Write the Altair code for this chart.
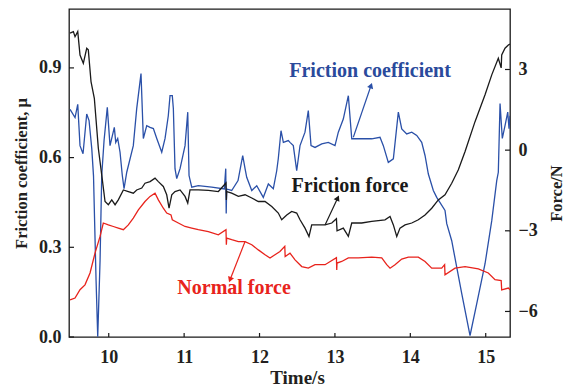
import altair as alt
import pandas as pd

# ---------------- data ----------------
T_BLUE = [9.487, 9.553, 9.589, 9.619, 9.659, 9.708, 9.739, 9.775, 9.798, 9.832,
          9.854, 9.885, 9.907, 9.938, 9.981, 10.017, 10.074, 10.093, 10.119, 10.150,
          10.180, 10.203, 10.239, 10.326, 10.371, 10.428, 10.459, 10.504, 10.548, 10.592,
          10.637, 10.703, 10.747, 10.790, 10.813, 10.843, 10.857, 10.879, 10.902, 10.946,
          11.012, 11.048, 11.065, 11.101, 11.188, 11.366, 11.533, 11.552, 11.558, 11.564,
          11.631, 11.715, 11.777, 11.808, 11.830, 11.897, 11.963, 12.050, 12.117, 12.183,
          12.228, 12.249, 12.285, 12.316, 12.382, 12.404, 12.448, 12.493, 12.537, 12.603,
          12.647, 12.683, 12.736, 12.825, 12.912, 13.001, 13.045, 13.111, 13.178, 13.223,
          13.355, 13.488, 13.598, 13.642, 13.708, 13.775, 13.841, 13.886, 13.952, 14.019,
          14.085, 14.151, 14.195, 14.239, 14.305, 14.350, 14.460, 14.483, 14.549, 14.682,
          14.792, 14.881, 14.991, 15.080, 15.146, 15.167, 15.190, 15.220, 15.256, 15.292,
          15.309, 15.322]
MU_BLUE = [0.761, 0.734, 0.778, 0.640, 0.613, 0.746, 0.724, 0.630, 0.539, 0.189,
           0.001, 0.256, 0.540, 0.657, 0.768, 0.640, 0.701, 0.651, 0.664, 0.618,
           0.540, 0.496, 0.551, 0.640, 0.764, 0.881, 0.664, 0.707, 0.701, 0.697,
           0.664, 0.618, 0.664, 0.740, 0.807, 0.807, 0.764, 0.563, 0.530, 0.563,
           0.640, 0.752, 0.540, 0.501, 0.506, 0.501, 0.495, 0.563, 0.413, 0.495,
           0.490, 0.523, 0.607, 0.563, 0.534, 0.490, 0.506, 0.467, 0.512, 0.496,
           0.556, 0.597, 0.690, 0.651, 0.657, 0.651, 0.640, 0.556, 0.640, 0.685,
           0.757, 0.640, 0.634, 0.646, 0.651, 0.640, 0.685, 0.729, 0.807, 0.663,
           0.663, 0.663, 0.668, 0.640, 0.584, 0.596, 0.752, 0.696, 0.679, 0.685,
           0.674, 0.651, 0.607, 0.545, 0.490, 0.467, 0.423, 0.379, 0.322, 0.145,
           0.005, 0.112, 0.245, 0.389, 0.523, 0.551, 0.781, 0.664, 0.707, 0.752,
           0.697, 0.740]

T_BLACK = [9.487, 9.531, 9.553, 9.589, 9.619, 9.663, 9.708, 9.729, 9.765, 9.809,
           9.862, 9.907, 9.951, 9.995, 10.040, 10.084, 10.127, 10.194, 10.260, 10.326,
           10.371, 10.438, 10.481, 10.548, 10.614, 10.658, 10.724, 10.769, 10.800, 10.836,
           10.879, 10.946, 11.012, 11.048, 11.078, 11.188, 11.321, 11.454, 11.555, 11.560,
           11.565, 11.631, 11.719, 11.808, 11.897, 11.984, 12.073, 12.162, 12.249, 12.294,
           12.361, 12.427, 12.493, 12.537, 12.603, 12.656, 12.692, 12.780, 12.869, 12.958,
           13.020, 13.024, 13.028, 13.111, 13.178, 13.223, 13.355, 13.488, 13.664, 13.731,
           13.775, 13.820, 13.863, 13.930, 14.019, 14.106, 14.195, 14.284, 14.371, 14.460,
           14.549, 14.637, 14.726, 14.858, 14.991, 15.080, 15.167, 15.205, 15.212, 15.256,
           15.300, 15.322]
F_BLACK = [4.35, 4.41, 4.22, 4.41, 3.54, 3.23, 3.79, 3.73, 2.55, 1.93,
           0.07, -0.92, -1.91, -2.03, -1.85, -2.03, -1.85, -1.48, -1.54, -1.60,
           -1.48, -1.41, -1.23, -1.17, -1.04, -1.17, -1.35, -1.66, -2.16, -1.66,
           -1.54, -1.48, -1.72, -1.97, -1.48, -1.48, -1.50, -1.54, -1.22, -1.85,
           -1.54, -1.60, -1.72, -1.66, -1.78, -1.91, -1.91, -2.10, -2.34, -2.59,
           -2.41, -2.28, -2.34, -2.59, -2.90, -3.21, -2.78, -2.78, -2.78, -2.71,
           -2.55, -2.78, -3.00, -2.90, -3.21, -2.71, -2.71, -2.65, -2.59, -2.47,
           -2.78, -3.21, -2.90, -2.78, -2.71, -2.59, -2.41, -2.16, -1.85, -1.66,
           -1.23, -0.73, -0.05, 1.06, 2.06, 2.80, 3.42, 3.06, 3.54, 3.79,
           3.91, 3.95]

T_RED = [9.487, 9.553, 9.619, 9.685, 9.752, 9.818, 9.885, 9.928, 9.995, 10.061,
         10.127, 10.194, 10.260, 10.326, 10.393, 10.481, 10.548, 10.614, 10.658, 10.724,
         10.769, 10.826, 10.843, 10.923, 11.012, 11.101, 11.188, 11.321, 11.454, 11.555,
         11.560, 11.565, 11.631, 11.719, 11.808, 11.897, 11.984, 12.073, 12.139, 12.205,
         12.271, 12.335, 12.340, 12.404, 12.471, 12.560, 12.647, 12.736, 12.869, 13.020,
         13.024, 13.028, 13.090, 13.178, 13.310, 13.488, 13.621, 13.687, 13.731, 13.797,
         13.886, 13.974, 14.106, 14.195, 14.284, 14.416, 14.455, 14.460, 14.593, 14.726,
         14.902, 15.034, 15.123, 15.205, 15.212, 15.300, 15.322]
F_RED = [-5.57, -5.50, -5.19, -5.01, -4.57, -3.83, -3.21, -2.71, -2.78, -2.84,
         -2.90, -2.96, -2.78, -2.53, -2.22, -1.91, -1.72, -1.60, -1.85, -2.16,
         -2.34, -2.41, -2.59, -2.71, -2.84, -2.90, -2.96, -3.03, -3.15, -2.96,
         -3.52, -3.27, -3.33, -3.40, -3.40, -3.52, -3.71, -3.89, -4.01, -3.89,
         -3.77, -3.58, -3.96, -3.83, -4.08, -4.33, -4.39, -4.26, -4.26, -4.00,
         -4.46, -4.20, -4.14, -4.01, -4.01, -3.98, -4.01, -4.26, -4.39, -4.26,
         -4.05, -3.98, -3.98, -4.14, -4.39, -4.39, -4.26, -4.64, -4.39, -4.33,
         -4.42, -4.57, -4.82, -4.85, -5.20, -5.13, -5.19]

X_TICKS = [10, 11, 12, 13, 14, 15]
MU_TICKS = [0.0, 0.3, 0.6, 0.9]
F_TICKS = [-6, -3, 0, 3]

X_DOMAIN = [9.473, 15.322]
MU_DOMAIN = [0.0, 1.097]
F_DOMAIN = [-6.95, 5.25]

# annotations
COEF_LABEL = ["Friction coefficient"]
COEF_LABEL_T = [13.466]
COEF_LABEL_MU = [0.889]
COEF_ARROW = {"t": [13.244], "y": [0.668], "t2": [13.479], "y2": [0.841], "ang": [19]}

FORCE_LABELS = ["Friction force", "Normal force"]
FORCE_LABEL_T = [13.20, 11.662]
FORCE_LABEL_F = [-1.35, -5.13]
FORCE_LABEL_COLORS = ["#1a1a1a", "#e8231c"]
FORCE_ARROWS = {"t": [12.869, 11.808], "y": [-2.78, -3.40],
                "t2": [13.037, 11.609], "y2": [-1.78, -4.82],
                "ang": [25, 201], "c": ["#1a1a1a", "#e8231c"]}

BLUE = "#2a50a8"
BLACK = "#1a1a1a"
RED = "#e8231c"
FONT = "Liberation Serif"
TXT = "#231f20"

W, H = 441, 328

# ---------------- scales / axes ----------------
xs = alt.Scale(domain=X_DOMAIN, nice=False, zero=False)
mus = alt.Scale(domain=MU_DOMAIN, nice=False, zero=False)
fs = alt.Scale(domain=F_DOMAIN, nice=False, zero=False)

x_axis = alt.Axis(values=X_TICKS, format="d", title="Time/s", grid=False,
                  domain=False, ticks=False, tickSize=0, labelPadding=11,
                  labelFont=FONT, labelFontSize=18, labelFontWeight="bold", labelColor=TXT,
                  titleFont=FONT, titleFontSize=19, titleFontWeight="bold", titleColor=TXT,
                  titleX=228, titleY=40, titleBaseline="middle", titleAlign="center")

mu_axis = alt.Axis(orient="left", values=MU_TICKS, format=".1f",
                   title="Friction coefficient, μ", grid=False, domain=False,
                   ticks=False, tickSize=0, labelPadding=8,
                   labelFont=FONT, labelFontSize=18, labelFontWeight="bold", labelColor=TXT,
                   titleFont=FONT, titleFontSize=16.5, titleFontWeight="bold", titleColor=TXT,
                   titleAngle=270, titleX=-48, titleY=164, titleBaseline="middle",
                   titleAlign="center")

f_axis = alt.Axis(orient="right", values=F_TICKS, format="d", title="Force/N",
                  grid=False, domain=False, ticks=False, tickSize=0, labelPadding=8,
                  labelFont=FONT, labelFontSize=18, labelFontWeight="bold", labelColor=TXT,
                  titleFont=FONT, titleFontSize=16.5, titleFontWeight="bold", titleColor=TXT,
                  titleAngle=270, titleX=46, titleY=184, titleBaseline="middle",
                  titleAlign="center")


def X(field):
    return alt.X(field, scale=xs, axis=x_axis)


def YL(field):
    return alt.Y(field, scale=mus, axis=mu_axis)


def YR(field):
    return alt.Y(field, scale=fs, axis=f_axis)


# ---------------- left (friction coefficient) ----------------
blue_df = pd.DataFrame({"t": T_BLUE, "mu": MU_BLUE})
blue_line = alt.Chart(blue_df).mark_line(color=BLUE, strokeWidth=1.3, clip=True).encode(
    x=X("t:Q"), y=YL("mu:Q"))

coef_txt = alt.Chart(pd.DataFrame({"t": COEF_LABEL_T, "mu": COEF_LABEL_MU, "s": COEF_LABEL})).mark_text(
    font=FONT, fontSize=20, fontWeight="bold", color="#2a4a9c", align="center", baseline="middle"
).encode(x=X("t:Q"), y=YL("mu:Q"), text="s:N")

carr = pd.DataFrame(COEF_ARROW)
coef_rule = alt.Chart(carr).mark_rule(color=BLUE, strokeWidth=1.2).encode(
    x=X("t:Q"), x2="t2:Q", y=YL("y:Q"), y2="y2:Q")
coef_head = alt.Chart(carr).mark_point(shape="triangle-up", filled=True, size=40,
                                       color=BLUE, opacity=1).encode(
    x=X("t2:Q"), y=YL("y2:Q"), angle=alt.Angle("ang:Q", scale=None))

xt = alt.Chart(pd.DataFrame({"t": X_TICKS})).mark_rule(color=BLACK, strokeWidth=1.2).encode(
    x=X("t:Q"), y=alt.value(H), y2=alt.value(H - 4))
mut = alt.Chart(pd.DataFrame({"mu": MU_TICKS})).mark_rule(color=BLACK, strokeWidth=1.2).encode(
    y=YL("mu:Q"), x=alt.value(0), x2=alt.value(5))

left = alt.layer(blue_line, coef_rule, coef_head, coef_txt, xt, mut)

# ---------------- right (forces) ----------------
black_df = pd.DataFrame({"t": T_BLACK, "f": F_BLACK})
red_df = pd.DataFrame({"t": T_RED, "f": F_RED})

black_line = alt.Chart(black_df).mark_line(color=BLACK, strokeWidth=1.3, clip=True).encode(
    x=X("t:Q"), y=YR("f:Q"))
red_line = alt.Chart(red_df).mark_line(color=RED, strokeWidth=1.3, clip=True).encode(
    x=X("t:Q"), y=YR("f:Q"))

farr = pd.DataFrame(FORCE_ARROWS)
f_rule = alt.Chart(farr).mark_rule(strokeWidth=1.2).encode(
    x=X("t:Q"), x2="t2:Q", y=YR("y:Q"), y2="y2:Q",
    color=alt.Color("c:N", scale=None))
f_head = alt.Chart(farr).mark_point(shape="triangle-up", filled=True, size=40, opacity=1).encode(
    x=X("t2:Q"), y=YR("y2:Q"),
    angle=alt.Angle("ang:Q", scale=None), color=alt.Color("c:N", scale=None))

f_txt = alt.Chart(pd.DataFrame({"t": FORCE_LABEL_T, "f": FORCE_LABEL_F, "s": FORCE_LABELS,
                                "c": FORCE_LABEL_COLORS})).mark_text(
    font=FONT, fontSize=20, fontWeight="bold", align="center", baseline="middle"
).encode(x=X("t:Q"), y=YR("f:Q"), text="s:N", color=alt.Color("c:N", scale=None))

ft = alt.Chart(pd.DataFrame({"f": F_TICKS})).mark_rule(color=BLACK, strokeWidth=1.2).encode(
    y=YR("f:Q"), x=alt.value(W), x2=alt.value(W - 5))

right = alt.layer(red_line, black_line, f_rule, f_head, f_txt, ft)

chart = alt.layer(left, right).resolve_scale(y="independent").properties(
    width=W, height=H,
    autosize=alt.AutoSizeParams(type="none"),
    padding={"left": 69, "top": 9, "right": 59, "bottom": 50},
    background="white",
).configure_view(stroke=BLACK, strokeWidth=1.3)

chart.save("out.html", embed_options={"renderer": "svg", "actions": False})
